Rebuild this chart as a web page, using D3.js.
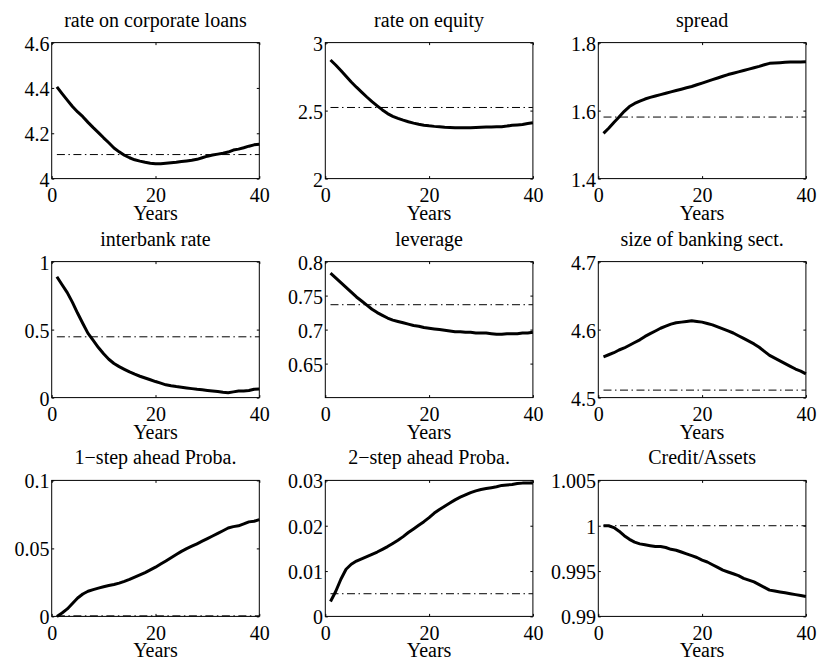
<!DOCTYPE html>
<html>
<head>
<meta charset="utf-8">
<script src="https://cdn.jsdelivr.net/npm/d3@7"></script>
<style>
  html, body { margin: 0; padding: 0; background: #fff; }
  svg { display: block; }
  text { font-family: "Liberation Serif", "Times New Roman", serif; font-size: 20px; fill: #000; }
</style>
</head>
<body>
<svg id="chart" width="817" height="662"></svg>
<script>
// Horizon (years) of the simulated paths
const years = d3.range(1, 41);

// Panel titles
const titles = [
  "rate on corporate loans", "rate on equity", "spread",
  "interbank rate", "leverage", "size of banking sect.",
  "1\u2212step ahead Proba.", "2\u2212step ahead Proba.", "Credit/Assets"
];

// Simulated paths, one per panel
const corpLoanRate = [4.405,4.375,4.346,4.318,4.294,4.273,4.248,4.225,4.203,4.180,
  4.158,4.135,4.118,4.103,4.092,4.083,4.077,4.072,4.068,4.066,
  4.066,4.068,4.070,4.072,4.075,4.078,4.081,4.085,4.092,4.099,
  4.104,4.108,4.112,4.117,4.126,4.130,4.136,4.143,4.149,4.152];
const equityRate = [2.872,2.835,2.795,2.752,2.710,2.672,2.636,2.600,2.566,2.535,
  2.505,2.478,2.458,2.443,2.430,2.418,2.408,2.400,2.393,2.388,
  2.384,2.381,2.378,2.376,2.374,2.373,2.373,2.374,2.376,2.378,
  2.379,2.380,2.381,2.382,2.386,2.392,2.395,2.398,2.405,2.410];
const spread = [1.533,1.548,1.565,1.581,1.598,1.612,1.621,1.628,1.634,1.639,
  1.643,1.647,1.651,1.655,1.659,1.663,1.667,1.671,1.676,1.681,
  1.686,1.691,1.696,1.701,1.706,1.710,1.714,1.718,1.722,1.726,
  1.730,1.735,1.739,1.740,1.741,1.742,1.743,1.743,1.743,1.744];
const interbankRate = [0.889,0.830,0.772,0.700,0.620,0.545,0.472,0.420,0.368,0.322,
  0.282,0.251,0.228,0.208,0.189,0.172,0.157,0.144,0.131,0.118,
  0.106,0.094,0.087,0.081,0.076,0.071,0.066,0.061,0.057,0.053,
  0.049,0.045,0.040,0.036,0.042,0.048,0.049,0.052,0.061,0.064];
const leverage = [0.783,0.776,0.769,0.762,0.755,0.748,0.742,0.736,0.730,0.725,
  0.721,0.717,0.714,0.712,0.710,0.708,0.706,0.705,0.703,0.702,
  0.701,0.700,0.699,0.698,0.697,0.697,0.696,0.696,0.695,0.695,
  0.695,0.694,0.693,0.693,0.694,0.694,0.694,0.695,0.695,0.696];
const bankSize = [4.560,4.563,4.566,4.570,4.573,4.577,4.581,4.585,4.590,4.594,
  4.598,4.602,4.605,4.608,4.610,4.611,4.612,4.613,4.612,4.611,
  4.609,4.607,4.604,4.601,4.598,4.595,4.591,4.587,4.583,4.579,
  4.574,4.568,4.562,4.558,4.554,4.550,4.546,4.542,4.539,4.535];
const proba1 = [0.0000,0.0025,0.0055,0.0095,0.0135,0.0165,0.0185,0.0197,0.0208,0.0218,
  0.0227,0.0235,0.0245,0.0258,0.0272,0.0288,0.0305,0.0322,0.0342,0.0362,
  0.0385,0.0408,0.0432,0.0455,0.0478,0.0498,0.0516,0.0534,0.0553,0.0572,
  0.0591,0.0610,0.0630,0.0650,0.0660,0.0666,0.0680,0.0695,0.0700,0.0712];
const proba2 = [0.0033,0.0055,0.0082,0.0104,0.0115,0.0122,0.0127,0.0132,0.0137,0.0142,
  0.0148,0.0154,0.0161,0.0168,0.0176,0.0185,0.0193,0.0201,0.0209,0.0218,
  0.0228,0.0236,0.0243,0.0250,0.0257,0.0263,0.0268,0.0273,0.0277,0.0280,
  0.0282,0.0284,0.0286,0.0289,0.0290,0.0291,0.0293,0.0294,0.0294,0.0294];
const creditAssets = [1.0000,1.0000,0.9998,0.9994,0.9989,0.9985,0.9982,0.9980,0.9979,0.9978,
  0.9977,0.9977,0.9976,0.9974,0.9973,0.9971,0.9969,0.9967,0.9965,0.9962,
  0.9960,0.9957,0.9954,0.9951,0.9949,0.9947,0.9945,0.9942,0.9940,0.9938,
  0.9935,0.9932,0.9929,0.9928,0.9927,0.9926,0.9925,0.9924,0.9923,0.9922];

// Steady-state levels (dash-dot reference lines)
const steadyStates = [4.106, 2.523, 1.581, 0.447, 0.7366, 4.511, 0.0004, 0.0050, 1.0000];

// Axis ranges and tick labels
const yDomains = [[4, 4.6], [2, 3], [1.4, 1.8], [0, 1], [0.6, 0.8], [4.5, 4.7], [0, 0.1], [0, 0.03], [0.99, 1.005]];
const yTicks = [
  ["4", "4.2", "4.4", "4.6"], ["2", "2.5", "3"], ["1.4", "1.6", "1.8"],
  ["0", "0.5", "1"], ["0.65", "0.7", "0.75", "0.8"], ["4.5", "4.6", "4.7"],
  ["0", "0.05", "0.1"], ["0", "0.01", "0.02", "0.03"], ["0.99", "0.995", "1", "1.005"]
];
const xDomain = [0, 40];
const xTicks = ["0", "20", "40"];

const series = [corpLoanRate, equityRate, spread, interbankRate, leverage, bankSize, proba1, proba2, creditAssets];

// Grid geometry
const colLeft = [51.7, 325.3, 598.3];
const rowTop = [42.6, 261.6, 480.4];
const panelW = 207.6;
const panelH = 136;
const tickLen = 2.5;

const svg = d3.select("#chart");

series.forEach((vals, i) => {
  const col = i % 3, row = Math.floor(i / 3);
  const g = svg.append("g").attr("transform", `translate(${colLeft[col]},${rowTop[row]})`);

  const x = d3.scaleLinear().domain(xDomain).range([0, panelW]);
  const y = d3.scaleLinear().domain(yDomains[i]).range([panelH, 0]);
  const yt = yTicks[i].map(Number);
  const xt = xTicks.map(Number);

  // bottom axis with labels, ticks pointing inward
  g.append("g").attr("transform", `translate(0,${panelH})`)
    .call(d3.axisBottom(x).tickValues(xt).tickFormat((d, k) => xTicks[k])
      .tickSizeInner(-tickLen).tickSizeOuter(0).tickPadding(9.2));
  // left axis with labels
  const left = g.append("g")
    .call(d3.axisLeft(y).tickValues(yt).tickFormat((d, k) => yTicks[i][k])
      .tickSizeInner(-tickLen).tickSizeOuter(0).tickPadding(2.2));
  left.selectAll("text").attr("dy", "0.37em");
  // mirrored ticks on top and right
  g.append("g")
    .call(d3.axisTop(x).tickValues(xt).tickFormat("").tickSizeInner(-tickLen).tickSizeOuter(0));
  g.append("g").attr("transform", `translate(${panelW},0)`)
    .call(d3.axisRight(y).tickValues(yt).tickFormat("").tickSizeInner(-tickLen).tickSizeOuter(0));

  g.selectAll(".domain").remove();
  g.selectAll(".tick line").attr("stroke", "#000").attr("stroke-width", 1);
  g.selectAll(".tick text")
    .attr("fill", "#000")
    .style("font-family", '"Liberation Serif", "Times New Roman", serif')
    .style("font-size", "20px");

  // steady-state dash-dot line
  g.append("line")
    .attr("x1", x(years[0])).attr("x2", x(years[years.length - 1]))
    .attr("y1", y(steadyStates[i])).attr("y2", y(steadyStates[i]))
    .attr("stroke", "#000").attr("stroke-width", 1)
    .attr("stroke-dasharray", "8,3.5,1.5,3.5");

  // simulated path
  const line = d3.line().x((d, k) => x(years[k])).y(d => y(d));
  g.append("path").datum(vals)
    .attr("d", line)
    .attr("fill", "none").attr("stroke", "#000")
    .attr("stroke-width", 3).attr("stroke-linejoin", "round");

  // axes box
  g.append("rect").attr("x", 0).attr("y", 0).attr("width", panelW).attr("height", panelH)
    .attr("fill", "none").attr("stroke", "#000").attr("stroke-width", 1);

  // title and x-axis label
  g.append("text").attr("x", panelW / 2).attr("y", -16)
    .attr("text-anchor", "middle").text(titles[i]);
  g.append("text").attr("x", panelW / 2).attr("y", panelH + 41)
    .attr("text-anchor", "middle").text("Years");
});
</script>
</body>
</html>
